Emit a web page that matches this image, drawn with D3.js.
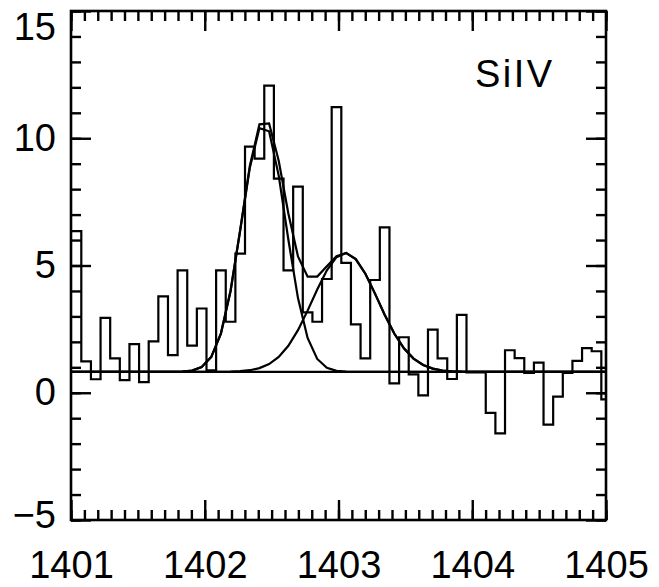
<!DOCTYPE html>
<html>
<head>
<meta charset="utf-8">
<script src="https://cdn.jsdelivr.net/npm/d3@7"></script>
<style>
  html, body { margin: 0; padding: 0; background: #fff; }
  svg { display: block; }
  text { font-family: "Liberation Sans", Arial, sans-serif; fill: #000; }
</style>
</head>
<body>
<svg id="chart" width="659" height="587"></svg>
<script>
// Si IV 1402 line profile: binned flux with a two-Gaussian fit.

// Wavelength grid of the spectrum (Angstrom)
const binStart = 1401.005;
const binWidth = 0.072;

// Flux in each wavelength bin
const flux = [
  6.35, 1.23, 0.53, 2.94, 1.35, 0.50, 1.91, 0.42, 2.02, 3.79,
  1.48, 4.81, 1.85, 3.31, 0.88, 4.81, 2.79, 5.47, 9.67, 9.20,
  12.07, 8.41, 4.81, 8.10, 3.16, 2.79, 4.47, 11.22, 5.10, 2.69,
  1.35, 4.43, 6.50, 0.37, 2.18, 0.72, -0.10, 2.48, 1.35, 0.54,
  3.06, 0.80, 0.80, -0.79, -1.60, 1.67, 1.36, 0.78, 1.18, -1.25,
  -0.15, 0.78, 1.25, 1.75, 1.63, -0.26
];

// Fitted continuum level and Gaussian components
const continuum = 0.82;
const componentCenters = [1402.44, 1403.05];
const componentAmplitudes = [9.75, 4.67];
const componentSigmas = [0.165, 0.244];

// Axis ticks
const xMajorTicks = [1401, 1402, 1403, 1404, 1405];
const xMinorTicks = d3.range(0, 41).map(i => 1401 + i * 0.1);
const yMajorTicks = [-5, 0, 5, 10, 15];
const yMinorTicks = d3.range(-5, 16);
const xTickLabels = ["1401", "1402", "1403", "1404", "1405"];
const yTickLabels = ["\u22125", "0", "5", "10", "15"];
const lineLabel = "SiIV";

const svg = d3.select("#chart");
const plotLeft = 71, plotRight = 606, plotTop = 11, plotBottom = 520;

const x = d3.scaleLinear().domain([1401, 1405]).range([plotLeft, plotRight]);
const y = d3.scaleLinear().domain([-5, 15]).range([plotBottom, plotTop]);

svg.append("defs").append("clipPath").attr("id", "plot")
  .append("rect")
  .attr("x", plotLeft).attr("y", plotTop)
  .attr("width", plotRight - plotLeft).attr("height", plotBottom - plotTop);

const plot = svg.append("g").attr("clip-path", "url(#plot)");

// Histogram of the binned flux
const edges = flux.map((_, i) => binStart + i * binWidth);
let d = "";
flux.forEach((v, i) => {
  const x0 = x(edges[i]);
  const x1 = x(edges[i] + binWidth);
  d += (i === 0 ? `M${x0},${y(v)}` : `V${y(v)}`) + `H${x1}`;
});
plot.append("path")
  .attr("d", d)
  .attr("fill", "none")
  .attr("stroke", "#000")
  .attr("stroke-width", 2.2)
  .attr("stroke-linejoin", "miter");

// Fit curves evaluated at the bin centres
const centres = flux.map((_, i) => binStart + (i + 0.5) * binWidth);
const gauss = (w, k) => componentAmplitudes[k] *
  Math.exp(-0.5 * Math.pow((w - componentCenters[k]) / componentSigmas[k], 2));
const fitLine = d3.line().x(p => x(p[0])).y(p => y(p[1]));
const fitCurves = [
  centres.map(w => [w, continuum + gauss(w, 0)]),
  centres.map(w => [w, continuum + gauss(w, 1)]),
  centres.map(w => [w, continuum + gauss(w, 0) + gauss(w, 1)])
];
fitCurves.forEach(c => {
  plot.append("path")
    .attr("d", fitLine([[1401, c[0][1]], ...c, [1405, c[c.length - 1][1]]]))
    .attr("fill", "none")
    .attr("stroke", "#000")
    .attr("stroke-width", 2.2);
});

// Continuum level
plot.append("line")
  .attr("x1", x(1401)).attr("x2", x(1405))
  .attr("y1", y(continuum)).attr("y2", y(continuum))
  .attr("stroke", "#000").attr("stroke-width", 2.4);

// Inward tick marks on all four sides
function ticks(axis, transform) {
  const g = svg.append("g").attr("transform", transform).call(axis);
  g.select(".domain").remove();
  g.selectAll(".tick line").attr("stroke", "#000").attr("stroke-width", 2.4);
  g.selectAll(".tick text").remove();
}
ticks(d3.axisBottom(x).tickValues(xMinorTicks).tickSize(-10), `translate(0,${plotBottom})`);
ticks(d3.axisBottom(x).tickValues(xMajorTicks).tickSize(-20), `translate(0,${plotBottom})`);
ticks(d3.axisTop(x).tickValues(xMinorTicks).tickSize(-10), `translate(0,${plotTop})`);
ticks(d3.axisTop(x).tickValues(xMajorTicks).tickSize(-20), `translate(0,${plotTop})`);
ticks(d3.axisLeft(y).tickValues(yMinorTicks).tickSize(-10), `translate(${plotLeft},0)`);
ticks(d3.axisLeft(y).tickValues(yMajorTicks).tickSize(-20), `translate(${plotLeft},0)`);
ticks(d3.axisRight(y).tickValues(yMinorTicks).tickSize(-10), `translate(${plotRight},0)`);
ticks(d3.axisRight(y).tickValues(yMajorTicks).tickSize(-20), `translate(${plotRight},0)`);

// Frame
svg.append("rect")
  .attr("x", plotLeft).attr("y", plotTop)
  .attr("width", plotRight - plotLeft).attr("height", plotBottom - plotTop)
  .attr("fill", "none").attr("stroke", "#000").attr("stroke-width", 2.6);

// Tick labels
const xl = svg.append("g").attr("transform", `translate(0,${plotBottom})`)
  .call(d3.axisBottom(x).tickValues(xMajorTicks).tickSize(0).tickPadding(31)
    .tickFormat((v, i) => xTickLabels[i]));
xl.select(".domain").remove();
xl.selectAll("text").attr("font-size", 38).attr("font-family", null);

const yl = svg.append("g").attr("transform", `translate(${plotLeft},0)`)
  .call(d3.axisLeft(y).tickValues(yMajorTicks).tickSize(0).tickPadding(15)
    .tickFormat((v, i) => yTickLabels[i]));
yl.select(".domain").remove();
yl.selectAll("text").attr("font-size", 38).attr("font-family", null);
// keep the end labels inside the page
yl.selectAll(".tick").filter(v => v === 15).select("text").attr("y", 16);
yl.selectAll(".tick").filter(v => v === -5).select("text").attr("y", -5);

// Line identification
svg.append("text")
  .attr("x", x(1404.02)).attr("y", y(12.0))
  .attr("font-size", 38)
  .attr("letter-spacing", 2.5)
  .text(lineLabel);
</script>
</body>
</html>
